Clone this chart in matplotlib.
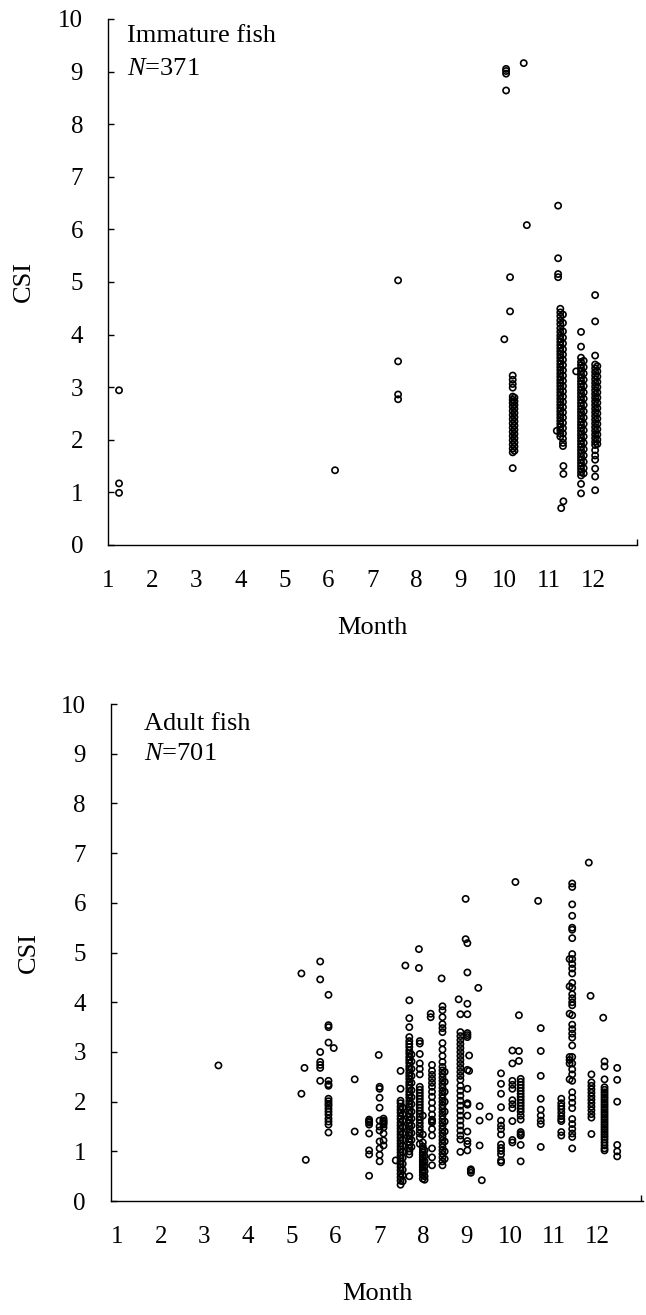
import matplotlib
matplotlib.use("Agg")
import matplotlib.pyplot as plt

plt.rcParams['font.family'] = ['Liberation Serif', 'DejaVu Serif']
plt.rcParams['mathtext.fontset'] = 'custom'
plt.rcParams['mathtext.it'] = 'Liberation Serif:italic'
plt.rcParams['mathtext.rm'] = 'Liberation Serif'

month_labels = ['1', '2', '3', '4', '5', '6', '7', '8', '9', '10', '11', '12']

# Immature fish: x position of each column (month) and the CSI values in it
imm_month = [1.25, 6.15, 7.58, 10.03, 9.99, 10.12, 10.18, 10.22, 10.43, 10.50,
             11.21, 11.18, 11.26, 11.32, 11.33, 11.28, 11.62, 11.73, 11.79,
             12.05, 12.10]
imm_csi = [
    [2.94, 1.17, 0.99],
    [1.42],
    [5.03, 3.49, 2.86, 2.77],
    [9.05, 9.01, 8.96, 8.64],
    [3.91],
    [5.09, 4.44],
    [3.22, 3.14, 3.06, 2.99, 2.82, 2.76, 2.70, 2.63, 2.55, 2.47, 2.39, 2.31,
     2.23, 2.15, 2.07, 1.99, 1.91, 1.83, 1.76, 1.46],
    [2.80, 2.73, 2.66, 2.59, 2.51, 2.43, 2.35, 2.27, 2.19, 2.11, 2.03, 1.95,
     1.87, 1.79],
    [9.16],
    [6.08],
    [6.45, 5.45, 5.15, 5.09],
    [2.17],
    [4.49, 4.42, 4.35, 4.27, 4.20, 4.12, 4.05, 3.98, 3.92, 3.86, 3.80, 3.74,
     3.68, 3.62, 3.56, 3.50, 3.44, 3.38, 3.32, 3.26, 3.20, 3.14, 3.08, 3.02,
     2.96, 2.90, 2.84, 2.78, 2.72, 2.66, 2.60, 2.54, 2.48, 2.42, 2.36, 2.30,
     2.24, 2.18, 2.12, 2.06],
    [4.38, 4.22, 4.06, 3.94, 3.83, 3.72, 3.62, 3.52, 3.42, 3.32, 3.22, 3.12,
     3.02, 2.92, 2.82, 2.72, 2.62, 2.52, 2.42, 2.32, 2.22, 2.12, 2.02, 1.94,
     1.88],
    [1.50, 1.35, 0.83],
    [0.70],
    [3.30],
    [4.05, 3.77, 3.56, 3.48, 3.42, 3.36, 3.30, 3.24, 3.18, 3.12, 3.06, 3.00,
     2.94, 2.88, 2.82, 2.76, 2.70, 2.64, 2.58, 2.52, 2.46, 2.40, 2.34, 2.28,
     2.22, 2.16, 2.10, 2.04, 1.98, 1.92, 1.86, 1.80, 1.74, 1.68, 1.62, 1.56,
     1.50, 1.44, 1.38, 1.32, 1.16, 0.98],
    [3.50, 3.38, 3.26, 3.14, 3.02, 2.90, 2.78, 2.66, 2.54, 2.42, 2.30, 2.18,
     2.06, 1.94, 1.82, 1.70, 1.58, 1.46, 1.36],
    [4.75, 4.25, 3.60, 3.43, 3.36, 3.29, 3.22, 3.15, 3.08, 3.01, 2.94, 2.87,
     2.80, 2.73, 2.66, 2.59, 2.52, 2.45, 2.38, 2.31, 2.24, 2.17, 2.10, 2.03,
     1.96, 1.90, 1.80, 1.70, 1.62, 1.45, 1.30, 1.04],
    [3.40, 3.30, 3.20, 3.10, 3.00, 2.90, 2.80, 2.70, 2.60, 2.50, 2.40, 2.30,
     2.20, 2.10, 2.00, 1.92],
]

# Adult fish
adult_month = [3.32, 5.22, 5.29, 5.32, 5.65, 5.84, 5.96, 6.44, 6.77, 6.99,
               7.01, 7.10, 7.38, 7.49, 7.54, 7.60, 7.69, 7.74, 7.91, 7.93,
               8.00, 8.04, 8.18, 8.21, 8.43, 8.45, 8.50, 8.82, 8.86, 8.98,
               9.02, 9.06, 9.10, 9.27, 9.30, 9.35, 9.52, 9.79, 10.05, 10.12,
               10.20, 10.24, 10.64, 10.70, 11.17, 11.36, 11.42, 11.80, 11.84,
               11.86, 12.13, 12.16, 12.45]
adult_csi = [
    [2.73],
    [4.58, 2.16],
    [2.68],
    [0.83],
    [4.82, 4.46, 3.00, 2.80, 2.74, 2.68, 2.42],
    [4.15, 3.54, 3.50, 3.19, 2.42, 2.35, 2.32, 2.06, 2.01, 1.96, 1.92, 1.86,
     1.80, 1.74, 1.66, 1.60, 1.54, 1.38],
    [3.08],
    [2.45, 1.40],
    [1.64, 1.61, 1.58, 1.54, 1.36, 1.02, 0.94, 0.51],
    [2.94],
    [2.30, 2.26, 2.08, 1.88, 1.62, 1.50, 1.42, 1.20, 1.06, 0.93, 0.80],
    [1.66, 1.62, 1.60, 1.57, 1.54, 1.48, 1.36, 1.22, 1.12],
    [0.82],
    [2.62, 2.26, 2.02, 1.97, 1.90, 1.84, 1.78, 1.71, 1.65, 1.58, 1.52, 1.46,
     1.40, 1.34, 1.28, 1.22, 1.16, 1.10, 1.04, 0.98, 0.92, 0.86, 0.80, 0.74,
     0.68, 0.62, 0.55, 0.48, 0.41, 0.33],
    [1.88, 1.75, 1.62, 1.49, 1.36, 1.23, 1.11, 0.99, 0.87, 0.75, 0.63, 0.52,
     0.40],
    [4.74],
    [4.04, 3.68, 3.50, 3.30, 3.22, 3.16, 3.10, 3.03, 2.97, 2.90, 2.84, 2.78,
     2.71, 2.65, 2.58, 2.52, 2.46, 2.39, 2.33, 2.27, 2.20, 2.14, 2.08, 2.01,
     1.95, 1.89, 1.82, 1.76, 1.70, 1.63, 1.57, 1.51, 1.44, 1.38, 1.32, 1.25,
     1.19, 1.13, 1.06, 1.00, 0.94, 0.50],
    [2.95, 2.81, 2.66, 2.52, 2.38, 2.23, 2.09, 1.95, 1.80, 1.66, 1.52, 1.37,
     1.23, 1.09],
    [5.07, 4.69],
    [3.22, 3.17, 2.96, 2.77, 2.66, 2.55, 2.30, 2.24, 2.18, 2.12, 2.06, 2.00,
     1.94, 1.88, 1.82, 1.76, 1.70, 1.64, 1.57, 1.50, 1.43, 1.36, 1.28, 1.15],
    [1.72, 1.34, 1.18, 1.10, 1.04, 0.98, 0.93, 0.88, 0.83, 0.78, 0.73, 0.68,
     0.63, 0.58, 0.52, 0.45],
    [1.02, 0.91, 0.80, 0.70, 0.60, 0.50, 0.43],
    [3.77, 3.70],
    [2.74, 2.62, 2.54, 2.46, 2.38, 2.30, 2.20, 2.10, 1.98, 1.86, 1.74, 1.64,
     1.61, 1.58, 1.45, 1.32, 1.06, 0.88, 0.72],
    [4.48],
    [3.92, 3.84, 3.70, 3.56, 3.48, 3.40, 3.18, 3.05, 2.92, 2.80, 2.70, 2.63,
     2.56, 2.49, 2.42, 2.35, 2.28, 2.21, 2.14, 2.07, 2.00, 1.93, 1.86, 1.79,
     1.72, 1.65, 1.58, 1.51, 1.44, 1.37, 1.30, 1.23, 1.16, 1.09, 1.02, 0.95,
     0.88, 0.80, 0.72],
    [2.60, 2.40, 2.20, 2.00, 1.80, 1.60, 1.40, 1.20, 1.00, 0.85],
    [4.06],
    [3.76, 3.40, 3.32, 3.24, 3.16, 3.08, 3.00, 2.92, 2.84, 2.76, 2.68, 2.60,
     2.52, 2.44, 2.32, 2.22, 2.12, 2.02, 1.92, 1.82, 1.72, 1.62, 1.52, 1.42,
     1.32, 1.24, 0.99],
    [6.08, 5.27],
    [5.19, 4.60, 3.97, 3.76, 3.38, 3.34, 3.30, 2.64, 2.26, 1.97, 1.94, 1.72,
     1.40, 1.21, 1.15, 1.02],
    [2.93, 2.62],
    [0.64, 0.61, 0.57],
    [4.29],
    [1.91, 1.62, 1.12],
    [0.42],
    [1.70],
    [2.57, 2.36, 2.16, 1.89, 1.62, 1.52, 1.45, 1.34, 1.14, 1.07, 1.01, 0.94,
     0.82, 0.78],
    [3.03, 2.77, 2.42, 2.34, 2.26, 2.03, 1.95, 1.87, 1.61, 1.23, 1.18],
    [6.42],
    [3.74, 3.02, 2.82],
    [2.46, 2.40, 2.34, 2.28, 2.22, 2.16, 2.10, 2.04, 1.98, 1.92, 1.86, 1.80,
     1.72, 1.64, 1.39, 1.35, 1.32, 1.13, 0.80],
    [6.04],
    [3.48, 3.02, 2.52, 2.06, 1.84, 1.72, 1.62, 1.55, 1.09],
    [2.06, 1.97, 1.91, 1.85, 1.78, 1.71, 1.65, 1.61, 1.39, 1.32],
    [4.87, 4.32, 3.77, 2.90, 2.84, 2.77, 2.45],
    [6.39, 6.32, 5.97, 5.74, 5.50, 5.46, 5.29, 4.97, 4.87, 4.77, 4.68, 4.58,
     4.39, 4.29, 4.16, 4.08, 4.00, 3.94, 3.74, 3.55, 3.46, 3.37, 3.29, 3.13,
     2.90, 2.77, 2.65, 2.55, 2.42, 2.19, 2.08, 1.98, 1.87, 1.65, 1.55, 1.45,
     1.36, 1.29, 1.06],
    [6.81],
    [4.13],
    [2.55, 2.39, 2.32, 2.25, 2.18, 2.11, 2.04, 1.97, 1.90, 1.83, 1.75, 1.68,
     1.35],
    [3.69],
    [2.81, 2.71, 2.45, 2.29, 2.24, 2.19, 2.14, 2.09, 2.04, 1.99, 1.94, 1.89,
     1.84, 1.79, 1.74, 1.69, 1.64, 1.59, 1.54, 1.49, 1.44, 1.39, 1.34, 1.29,
     1.24, 1.18, 1.12, 1.06, 1.02],
    [2.68, 2.44, 2.00, 1.13, 1.00, 0.90],
]


def draw_panel(ax, months, values, title, n_text, xlim, label_x, month_y):
    for m, vals in zip(months, values):
        ax.scatter([m] * len(vals), vals, s=20, facecolors='none',
                   edgecolors='black', linewidths=1.2, clip_on=False, zorder=3)
    ax.set_xlim(*xlim)
    ax.set_ylim(0, 10)
    for side in ['top', 'right']:
        ax.spines[side].set_visible(False)
    for side in ['left', 'bottom']:
        ax.spines[side].set_linewidth(1.0)
    ax.set_yticks(range(0, 11))
    ax.set_xticks(range(1, 13))
    ax.set_xticklabels(month_labels)
    ax.set_xticks(range(2, 14), minor=True)
    ax.tick_params(axis='x', which='major', length=0, pad=18, labelsize=18)
    ax.tick_params(axis='x', which='minor', direction='in', length=4.5, width=1.0)
    ax.tick_params(axis='y', direction='in', length=4.5, width=1.0, pad=18,
                   labelsize=18)
    ax.set_ylabel('CSI', fontsize=19)
    ax.yaxis.set_label_coords(label_x, 0.5)
    ax.set_xlabel('Month', fontsize=19)
    ax.xaxis.set_label_coords(0.5, month_y)
    ax.text(title[1], title[2], title[0], transform=ax.transAxes,
            fontsize=19, va='baseline', ha='left')
    ax.text(title[1], n_text[1], n_text[0], transform=ax.transAxes,
            fontsize=19, va='baseline', ha='left')


fig = plt.figure(figsize=(6.46, 13.15), dpi=100)
ax1 = fig.add_axes([0.1672, 0.5856, 0.8189, 0.4])
ax2 = fig.add_axes([0.1718, 0.0866, 0.8235, 0.378])

draw_panel(ax1, imm_month, imm_csi, ('Immature fish', 0.036, 0.957),
           (r'$N$=371', 0.894), (1, 13), -0.138, -0.137)
draw_panel(ax2, adult_month, adult_csi, ('Adult fish', 0.062, 0.948),
           (r'$N$=701', 0.887), (0.86, 13.04), -0.134, -0.165)

fig.savefig('out.png', dpi=100)
